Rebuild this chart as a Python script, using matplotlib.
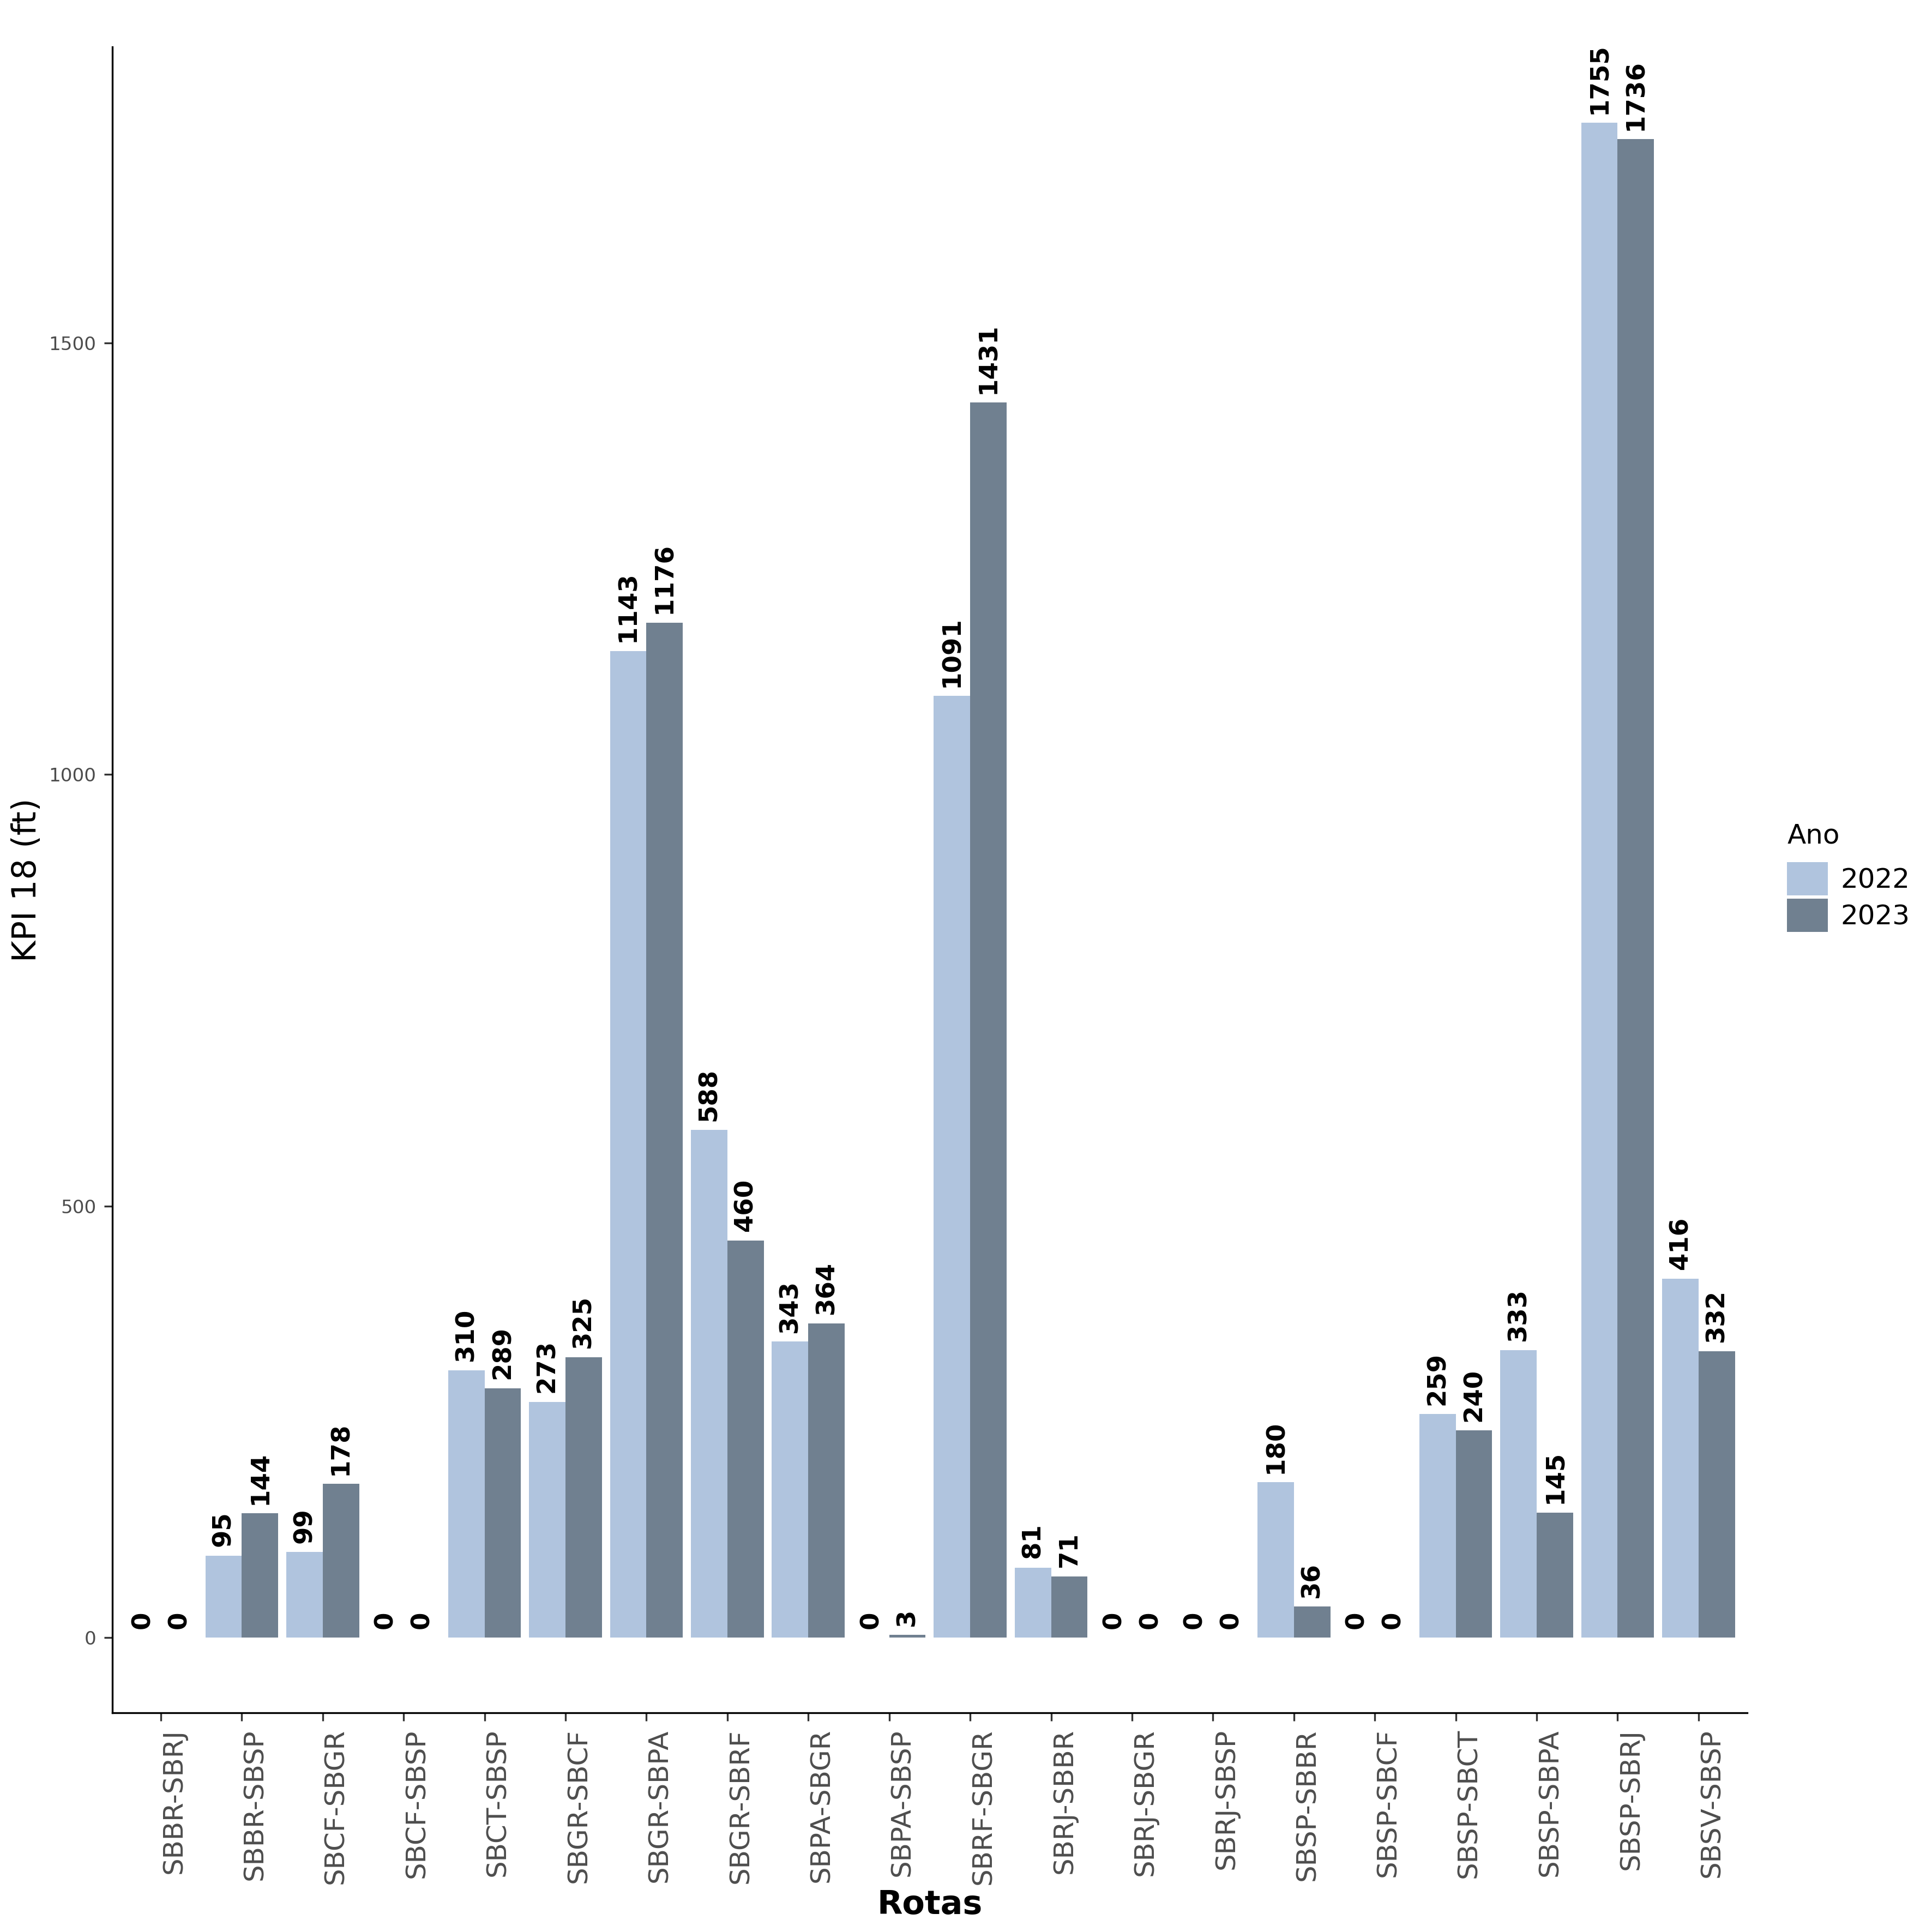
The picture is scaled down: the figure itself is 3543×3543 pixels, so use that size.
import numpy as np
import matplotlib
matplotlib.use("Agg")
import matplotlib.pyplot as plt
from matplotlib.patches import Patch

rotas = ["SBBR-SBRJ", "SBBR-SBSP", "SBCF-SBGR", "SBCF-SBSP", "SBCT-SBSP",
         "SBGR-SBCF", "SBGR-SBPA", "SBGR-SBRF", "SBPA-SBGR", "SBPA-SBSP",
         "SBRF-SBGR", "SBRJ-SBBR", "SBRJ-SBGR", "SBRJ-SBSP", "SBSP-SBBR",
         "SBSP-SBCF", "SBSP-SBCT", "SBSP-SBPA", "SBSP-SBRJ", "SBSV-SBSP"]
kpi_2022 = [0, 95, 99, 0, 310, 273, 1143, 588, 343, 0,
            1091, 81, 0, 0, 180, 0, 259, 333, 1755, 416]
kpi_2023 = [0, 144, 178, 0, 289, 325, 1176, 460, 364, 3,
            1431, 71, 0, 0, 36, 0, 240, 145, 1736, 332]
anos = ["2022", "2023"]
cores = ["#B0C4DE", "#708090"]

fig = plt.figure(figsize=(11.81, 11.81), dpi=300)
ax = fig.add_axes([0.0581, 0.1135, 0.8462, 0.8622])

x = np.arange(len(rotas))
w = 0.45
for i, (vals, cor) in enumerate(zip([kpi_2022, kpi_2023], cores)):
    pos = x + (i - 0.5) * w
    ax.bar(pos, vals, width=w, color=cor, linewidth=0)
    for p, v in zip(pos, vals):
        ax.annotate(str(v), (p, v), xytext=(0, 4), textcoords="offset points",
                    rotation=90, ha="center", va="bottom",
                    fontsize=11.2, fontweight="bold", color="black")

ax.set_xlim(-0.6, len(rotas) - 0.4)
ax.set_ylim(-87, 1843)
ax.set_yticks([0, 500, 1000, 1500])
ax.set_xticks(x)
ax.set_xticklabels(rotas, rotation=90, fontsize=12, color="#4d4d4d",
                   ha="left", va="top")
ax.tick_params(axis="y", labelsize=8.2, labelcolor="#4d4d4d")
ax.tick_params(axis="both", color="#333333", length=3.5, width=0.8)

for s in ["top", "right"]:
    ax.spines[s].set_visible(False)
for s in ["left", "bottom"]:
    ax.spines[s].set_linewidth(0.8)
    ax.spines[s].set_color("black")

ax.set_xlabel("Rotas", fontsize=14.5, fontweight="bold", labelpad=2)
ax.set_ylabel("KPI 18 (ft)", fontsize=14.5, labelpad=2.5)

handles = [Patch(facecolor=c, edgecolor="none") for c in cores]
leg = fig.legend(handles, anos, title="Ano", loc="center left",
                 bbox_to_anchor=(0.918, 0.546), frameon=False, fontsize=12,
                 title_fontsize=12, handlelength=1.5, handleheight=1.5,
                 labelspacing=0.12, handletextpad=0.45, borderpad=0,
                 alignment="left")
leg._legend_box.sep = 6

fig.savefig("out.png", dpi=300)
